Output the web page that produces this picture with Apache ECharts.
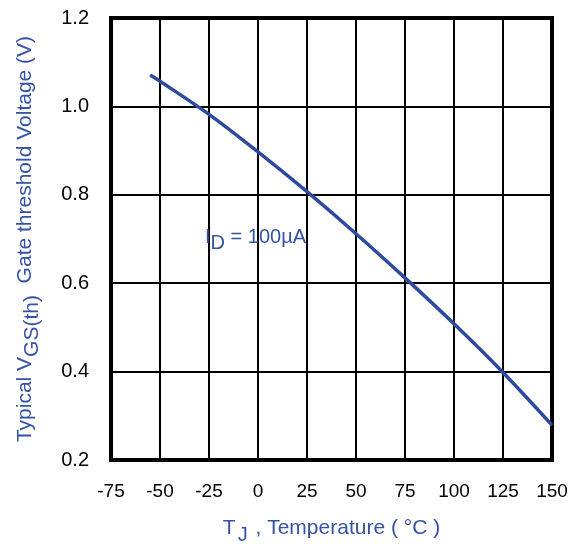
<!DOCTYPE html>
<html>
<head>
<meta charset="utf-8">
<script src="https://cdn.jsdelivr.net/npm/echarts@6/dist/echarts.min.js"></script>
<style>html,body{margin:0;padding:0;background:#fff}#c{width:579px;height:544px}</style>
</head>
<body>
<div id="c"></div>
<script>
const temps = [-55, -50, -25, 0, 25, 50, 75, 100, 125, 150];
const vgs = [1.071, 1.057, 0.982, 0.897, 0.807, 0.712, 0.612, 0.508, 0.398, 0.279];
const xTicks = [-75, -50, -25, 0, 25, 50, 75, 100, 125, 150];
const yTicks = [0.2, 0.4, 0.6, 0.8, 1.0, 1.2];
const blue = '#3553A6';
const lineBlue = '#2E4A9E';
const font = '"Liberation Sans", Arial, Helvetica, sans-serif';

const chart = echarts.init(document.getElementById('c'));
chart.setOption({
  animation: false,
  grid: { left: 111, right: 27, top: 18, bottom: 84, outerBoundsMode: 'none', containLabel: false,
          show: true, borderColor: '#000', borderWidth: 4, backgroundColor: 'transparent' },
  xAxis: {
    type: 'value', min: xTicks[0], max: xTicks[xTicks.length - 1], interval: 25,
    axisLine: { show: false }, axisTick: { show: false },
    splitLine: { show: true, lineStyle: { color: '#000', width: 2 } },
    axisLabel: { color: '#000', fontSize: 19, fontFamily: font, margin: 22 },
    name: '{n|T}{sub|J}{n| , Temperature ( °C )}',
    nameLocation: 'middle', nameGap: 51,
    nameTextStyle: {
      color: blue, fontFamily: font,
      rich: {
        n: { fontSize: 21, color: blue, fontFamily: font },
        sub: { fontSize: 20, color: blue, fontFamily: font, padding: [14, 2, 0, 2] }
      }
    }
  },
  yAxis: {
    type: 'value', min: yTicks[0], max: yTicks[yTicks.length - 1], interval: 0.2,
    axisLine: { show: false }, axisTick: { show: false },
    splitLine: { show: true, lineStyle: { color: '#000', width: 2 } },
    axisLabel: { color: '#000', fontSize: 20, fontFamily: font, margin: 22, formatter: v => v.toFixed(1) },
    name: '{n|Typical V}{sub|GS(th)}{n|  Gate threshold Voltage (V)}',
    nameLocation: 'middle', nameGap: 68, nameRotate: 90,
    nameTextStyle: {
      color: blue, fontFamily: font,
      rich: {
        n: { fontSize: 21, color: blue, fontFamily: font },
        sub: { fontSize: 21, color: blue, fontFamily: font, padding: [14, 0, 0, 0] }
      }
    }
  },
  series: [{
    type: 'line', smooth: 0.3, showSymbol: false, symbol: 'none',
    lineStyle: { color: lineBlue, width: 3.5 },
    data: temps.map((t, i) => [t, vgs[i]])
  }],
  graphic: [{
    type: 'text', left: 205, top: 227, z: 100,
    style: {
      text: '{n|I}{sub|D}{n| = 100µA}',
      fill: blue,
      rich: {
        n: { fontSize: 20, fill: blue, fontFamily: font },
        sub: { fontSize: 20, fill: blue, fontFamily: font, padding: [13, 0, 0, 0] }
      }
    }
  }]
});
</script>
</body>
</html>
